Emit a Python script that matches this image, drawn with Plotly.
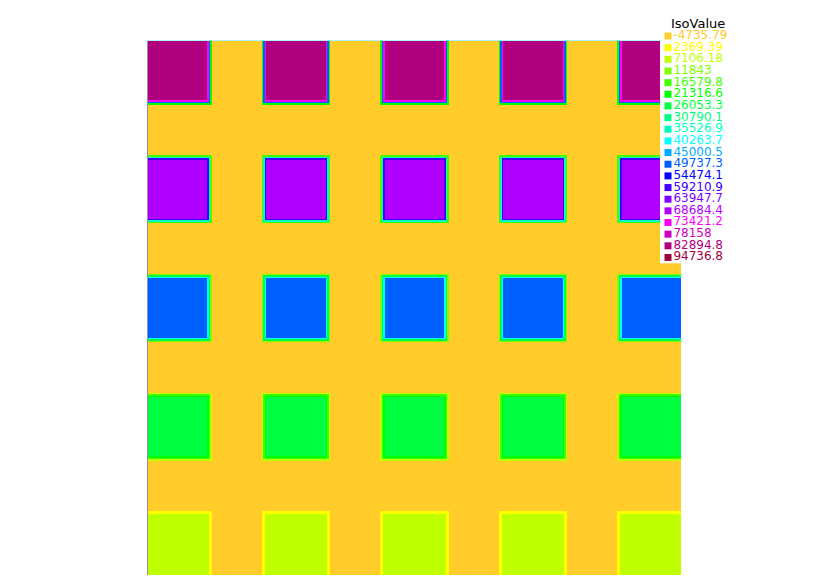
import numpy as np
import plotly.graph_objects as go

# ---- data ----
level_values = [-4735.79, 2369.39, 7106.18, 11843, 16579.8, 21316.6, 26053.3, 30790.1,
                35526.9, 40263.7, 45000.5, 49737.3, 54474.1, 59210.9, 63947.7, 68684.4,
                73421.2, 78158, 82894.8, 94736.8]
level_labels = ["-4735.79", "2369.39", "7106.18", "11843", "16579.8", "21316.6", "26053.3",
                "30790.1", "35526.9", "40263.7", "45000.5", "49737.3", "54474.1", "59210.9",
                "63947.7", "68684.4", "73421.2", "78158", "82894.8", "94736.8"]
level_colors = ["#ffcc2a", "#ffff00", "#bfff00", "#80ff00", "#40ff00", "#00ff00", "#00ff40",
                "#00ff80", "#00ffbf", "#00ffff", "#00aaff", "#0060ff", "#0000ff", "#4000ff",
                "#8000ff", "#b000ff", "#ff00ff", "#d000c0", "#b00080", "#a00040"]
# square values, row by row from the top of the domain
row_values = [90000, 70000, 50000, 30000, 10000]
background_value = 0.0
square_rows = [0, 2, 4, 6, 8]   # unit-cell index of each square row (from top)
square_cols = [0, 2, 4, 6, 8]   # unit-cell index of each square column
domain_units = 9

# ---- field on a fine grid (P1-like thin transition at square borders) ----
res = 40
n = domain_units * res
centers = (np.arange(n) + 0.5) / res
X, Y = np.meshgrid(centers, centers)
ramp = 0.085
field = np.full((n, n), background_value)
for r, v in zip(square_rows, row_values):
    for c in square_cols:
        dx = np.maximum(np.maximum(c - X, X - (c + 1)), 0)
        dy = np.maximum(np.maximum(r - Y, Y - (r + 1)), 0)
        d = np.maximum(dx, dy)
        t = np.clip(1 - d / ramp, 0, 1)
        field = field + (v - background_value) * t

lv = np.array(level_values)
idx = np.clip(np.digitize(field, lv) - 1, 0, len(lv) - 1)

nlev = len(level_colors)
colorscale = []
for i, col in enumerate(level_colors):
    colorscale.append([i / nlev, col])
    colorscale.append([(i + 1) / nlev, col])

# page body has an 8px margin: target page pixel p -> figure pixel p - OFF
OFF = 8
W, H = 830, 587
ml, mr, mt, mb = 148 - OFF, 90 + OFF, 10 - OFF, 12 + OFF
pw, ph = W - ml - mr, H - mt - mb

def px_x(p):
    return (p - OFF - ml) / pw

def px_y(p):
    return (H - mb - (p - OFF)) / ph

fig = go.Figure()
fig.add_trace(go.Heatmap(
    x=centers, y=centers, z=idx, colorscale=colorscale, zmin=-0.5, zmax=nlev - 0.5,
    showscale=False, hoverinfo="skip", xaxis="x", yaxis="y"))

legend_x = 8
fig.add_trace(go.Scatter(
    x=[legend_x] * nlev, y=list(range(nlev)), mode="markers+text",
    marker=dict(symbol="square", size=7, color=level_colors, line=dict(width=0)),
    text=level_labels, textposition="middle right",
    textfont=dict(family="DejaVu Sans", size=12, color=level_colors),
    xaxis="x2", yaxis="y2", hoverinfo="skip", showlegend=False, cliponaxis=False))

fig.update_layout(
    width=W, height=H, margin=dict(l=ml, r=mr, t=mt, b=mb),
    paper_bgcolor="white", plot_bgcolor="white", showlegend=False,
    xaxis=dict(domain=[px_x(148), px_x(681)], range=[0, domain_units], showgrid=False,
               zeroline=False, showticklabels=False, ticks="", side="top",
               showline=True, linecolor="#aaf4f4", linewidth=1),
    yaxis=dict(domain=[px_y(575), px_y(41)], range=[domain_units, 0], showgrid=False,
               zeroline=False, showticklabels=False, ticks="",
               showline=True, linecolor="#9a8cb0", linewidth=1),
    xaxis2=dict(domain=[px_x(660), 1], range=[0, 80], visible=False, anchor="y2"),
    yaxis2=dict(domain=[px_y(263.3), px_y(30.2)], range=[nlev - 0.5, -0.5],
                visible=False, anchor="x2"),
    shapes=[dict(type="rect", xref="x2 domain", yref="y2 domain", x0=0, x1=1, y0=0, y1=1,
                 fillcolor="white", line=dict(width=0), layer="below")],
    annotations=[dict(text="IsoValue", xref="paper", yref="paper", x=px_x(669), y=px_y(24),
                      xanchor="left", yanchor="middle", showarrow=False,
                      font=dict(family="DejaVu Sans", size=13, color="black"))],
)

fig.write_html("out.html")
